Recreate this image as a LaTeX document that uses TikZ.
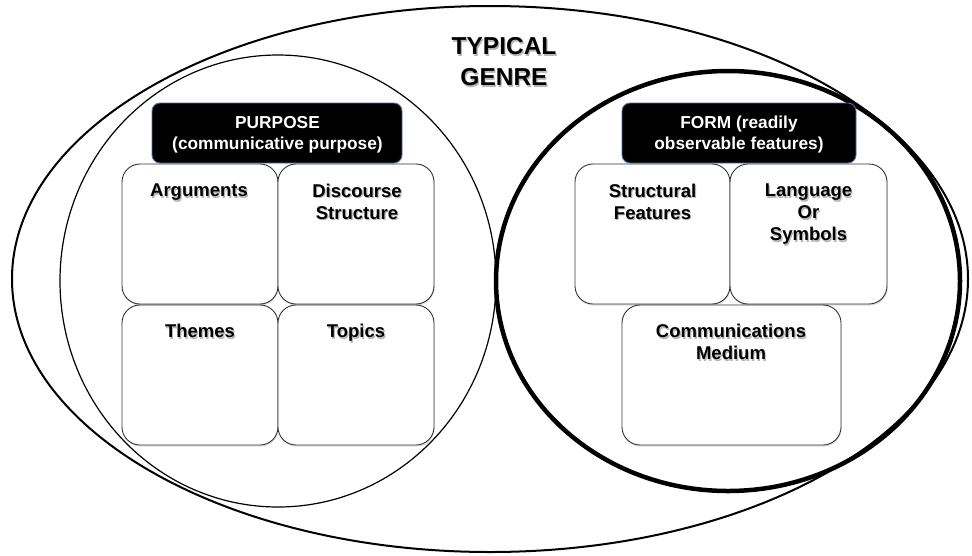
\documentclass[tikz,border=0pt]{standalone}
\usepackage{fontspec}
\setmainfont{Liberation Sans}
\usetikzlibrary{shadows,calc}
\definecolor{boxedge}{HTML}{4A6FA5}
\tikzset{
  cell/.style={draw=black!80, line width=0.9pt, fill=white, rounded corners=18pt,
    minimum height=140pt, inner sep=0pt,
    drop shadow={shadow xshift=0.6pt, shadow yshift=-1.6pt, opacity=0.25}},
  headbox/.style={draw=boxedge, line width=0.9pt, fill=black, rounded corners=8pt,
    minimum height=60pt, inner sep=0pt},
  lbl/.style={anchor=north, inner sep=0pt, align=center,
    font=\bfseries\fontsize{18.5}{22}\selectfont},
  hlbl/.style={anchor=north, inner sep=0pt, align=center, text=white,
    font=\bfseries\fontsize{17.3}{21}\selectfont},
  tlbl/.style={anchor=north, inner sep=0pt, align=center,
    font=\bfseries\fontsize{24.5}{31}\selectfont},
  shd/.style={text=black!35, opacity=0.8}
}
\newcommand{\shlabel}[4]{%
  \node[#1, shd] at ($(#2)+(1.2,1.8)$) {#4};
  \node[#1] (#3) at (#2) {#4};}
\begin{document}
\begin{tikzpicture}[x=1pt,y=-1pt]
\useasboundingbox (0,0) rectangle (972,555);
\fill[white] (0,0) rectangle (972,555);
% circles
\coordinate (genreC) at (490,279);
\coordinate (purpC) at (278,281);
\coordinate (formC) at (728,281);
\draw[line width=2pt] (genreC) ellipse [x radius=478, y radius=273];
\draw[line width=1.2pt] (purpC) ellipse [x radius=218, y radius=226];
\draw[line width=4.5pt] (formC) ellipse [x radius=232, y radius=210];
% title
\coordinate (tpos) at (504,37.5);
\shlabel{tlbl}{tpos}{ttl}{TYPICAL\\GENRE}
% header boxes
\node[headbox, minimum width=250pt] (purp) at (277,133) {};
\node[headbox, minimum width=234pt] (form) at (739,133) {};
\coordinate (purpt) at (277.5,116);
\coordinate (formt) at (739,116);
\node[hlbl] (purplbl) at (purpt) {PURPOSE\\(communicative purpose)};
\node[hlbl] (formlbl) at (formt) {FORM (readily\\observable features)};
% purpose cells
\node[cell, minimum width=156pt] (arg) at (200,234) {};
\node[cell, minimum width=156pt] (dis) at (356,234) {};
\node[cell, minimum width=156pt] (the) at (200,375) {};
\node[cell, minimum width=156pt] (top) at (356,375) {};
% form cells
\node[cell, minimum width=155pt] (str) at (652.5,234) {};
\node[cell, minimum width=157pt] (lan) at (808.5,234) {};
\node[cell, minimum width=219pt] (com) at (731.5,375) {};
% labels
\coordinate (argt) at (199,183.5);
\coordinate (dist) at (357,183.5);
\coordinate (thet) at (200,324);
\coordinate (topt) at (356,324);
\coordinate (strt) at (652.5,183.5);
\coordinate (lant) at (808.5,183.5);
\coordinate (comt) at (731,324);
\shlabel{lbl}{argt}{argl}{Arguments}
\shlabel{lbl}{dist}{disl}{Discourse\\Structure}
\shlabel{lbl}{thet}{thel}{Themes}
\shlabel{lbl}{topt}{topl}{Topics}
\shlabel{lbl}{strt}{strl}{Structural\\Features}
\shlabel{lbl}{lant}{lanl}{Language\\Or\\Symbols}
\shlabel{lbl}{comt}{coml}{Communications\\Medium}
\end{tikzpicture}
\end{document}
